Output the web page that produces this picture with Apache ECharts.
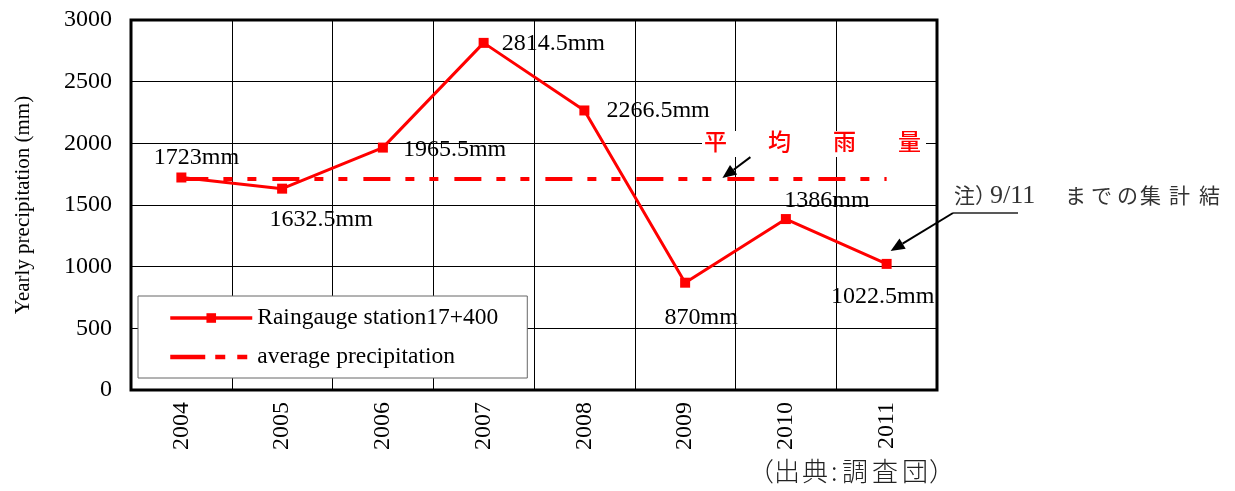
<!DOCTYPE html>
<html>
<head>
<meta charset="utf-8">
<style>
  html, body { margin: 0; padding: 0; background: #fff; }
  #chart { width: 1235px; height: 491px; }
</style>
<script src="https://cdn.jsdelivr.net/npm/echarts@6/dist/echarts.min.js"></script>
</head>
<body>
<div id="chart"></div>
<script>
// Yearly precipitation at the rain gauge station
const years = ['2004', '2005', '2006', '2007', '2008', '2009', '2010', '2011'];
const stationPrecip = [1723, 1632.5, 1965.5, 2814.5, 2266.5, 870, 1386, 1022.5];
const averagePrecip = [1710, 1710, 1710, 1710, 1710, 1710, 1710, 1710];
const yTicks = { min: 0, max: 3000, interval: 500 };

// where each value label sits relative to its point
const labelPlacement = [
  { position: 'top', offset: [15, 2] },
  { position: 'bottom', offset: [39, 9] },
  { position: 'right', offset: [10, 2] },
  { position: 'right', offset: [8, 1] },
  { position: 'right', offset: [12, 0] },
  { position: 'bottom', offset: [16, 13] },
  { position: 'top', offset: [41, 4] },
  { position: 'bottom', offset: [-4, 11] }
];

const SERIF = '"Liberation Serif", "DejaVu Serif", serif';
const CJK = '"Noto Sans CJK JP", sans-serif';
const RED = '#ff0000';

const chart = echarts.init(document.getElementById('chart'), null, { renderer: 'canvas' });

chart.setOption({
  animation: false,
  backgroundColor: '#fff',
  grid: {
    left: 131, right: 298, top: 20, bottom: 101,
    show: true, borderColor: '#000', borderWidth: 3, backgroundColor: 'transparent'
  },
  legend: {
    orient: 'vertical',
    left: 138, top: 296,
    padding: [10, 29, 9, 30],
    itemGap: 15,
    itemWidth: 82, itemHeight: 12,
    backgroundColor: '#fff',
    borderColor: '#666', borderWidth: 1,
    textStyle: { fontFamily: SERIF, fontSize: 23.5, color: '#000' },
    data: [
      { name: 'Raingauge station17+400', lineStyle: { width: 3.5 } },
      {
        name: 'average precipitation',
        itemStyle: { opacity: 0 },
        lineStyle: { width: 4.5, type: [35, 10, 10, 12, 10, 20] }
      }
    ]
  },
  xAxis: {
    type: 'category',
    data: years,
    boundaryGap: true,
    axisLine: { show: false },
    axisTick: { show: false },
    axisLabel: { rotate: 90, margin: 12, fontFamily: SERIF, fontSize: 24, color: '#000' },
    splitLine: { show: true, lineStyle: { color: '#000', width: 1 } }
  },
  yAxis: {
    type: 'value',
    min: yTicks.min, max: yTicks.max, interval: yTicks.interval,
    name: 'Yearly precipitation (mm)',
    nameLocation: 'middle',
    nameGap: 97,
    nameTextStyle: { fontFamily: SERIF, fontSize: 21, color: '#000' },
    axisLine: { show: false },
    axisTick: { show: true, inside: true, length: 5, lineStyle: { color: '#000' } },
    axisLabel: { margin: 19, fontFamily: SERIF, fontSize: 24, color: '#000', formatter: v => String(v) },
    splitLine: { show: true, lineStyle: { color: '#000', width: 1 } }
  },
  series: [
    {
      name: 'average precipitation',
      type: 'line',
      data: averagePrecip,
      symbol: 'none',
      z: 2,
      lineStyle: { color: RED, width: 4, type: [27, 15, 9, 15, 9, 16] },
      itemStyle: { color: RED }
    },
    {
      name: 'Raingauge station17+400',
      type: 'line',
      z: 3,
      data: stationPrecip.map((v, i) => ({
        value: v,
        label: { position: labelPlacement[i].position, offset: labelPlacement[i].offset }
      })),
      symbol: 'rect',
      symbolSize: 10,
      lineStyle: { color: RED, width: 3 },
      itemStyle: { color: RED },
      label: {
        show: true,
        formatter: p => p.value + 'mm',
        fontFamily: SERIF, fontSize: 24, color: '#000'
      }
    }
  ]
});

// annotation arrows and notes, placed from the axis scales
function toPx(idx, val) {
  return chart.convertToPixel({ gridIndex: 0 }, [idx, val]);
}
function xAt(fi) {
  const a = toPx(Math.floor(fi), 0)[0];
  const b = toPx(Math.floor(fi) + 1, 0)[0];
  return a + (b - a) * (fi - Math.floor(fi));
}
function arrow(x1, y1, x2, y2) {
  const ang = Math.atan2(y2 - y1, x2 - x1);
  const len = 14, half = 6;
  const bx = x2 - len * Math.cos(ang), by = y2 - len * Math.sin(ang);
  const nx = -Math.sin(ang), ny = Math.cos(ang);
  return [
    { type: 'line', shape: { x1: x1, y1: y1, x2: bx, y2: by }, style: { stroke: '#000', lineWidth: 2 }, z: 10 },
    { type: 'polygon', shape: { points: [[x2, y2], [bx + nx * half, by + ny * half], [bx - nx * half, by - ny * half]] }, style: { fill: '#000' }, z: 10 }
  ];
}
function txt(s, x, y, font, fill) {
  return { type: 'text', left: x, top: y, z: 11, style: { text: s, fill: fill, font: font } };
}

const avgY = toPx(0, averagePrecip[0])[1];
const tipX = xAt(5.37);
const last = toPx(7, stationPrecip[7]);

const titleFont = '500 23px ' + CJK;
const noteFont = '400 21px ' + CJK;
const srcFont = '300 26px ' + CJK;
const graphics = [
  // 平均雨量 callout on a white plate over the grid line
  { type: 'rect', shape: { x: 702, y: 131, width: 224, height: 26 }, style: { fill: '#fff' }, z: 10 },
  txt('平', 704, 130, titleFont, RED),
  txt('均', 768, 130, titleFont, RED),
  txt('雨', 833, 130, titleFont, RED),
  txt('量', 898, 130, titleFont, RED),
  ...arrow(tipX + 28, avgY - 22, tipX, avgY - 1),
  // note on the partial 2011 total
  txt('注）', 954, 185, noteFont, '#333'),
  txt('9/11', 990, 183, '26px ' + SERIF, '#333'),
  txt('ま', 1065, 185, noteFont, '#333'),
  txt('で', 1091, 185, noteFont, '#333'),
  txt('の', 1117, 185, noteFont, '#333'),
  txt('集', 1140, 185, noteFont, '#333'),
  txt('計', 1169, 185, noteFont, '#333'),
  txt('結', 1199, 185, noteFont, '#333'),
  { type: 'line', shape: { x1: 953, y1: 213, x2: 1018, y2: 213 }, style: { stroke: '#222', lineWidth: 1.5 }, z: 10 },
  ...arrow(953, 213, last[0] + 4, last[1] - 13),
  // source line
  txt('（', 748, 458, srcFont, '#222'),
  txt('出', 774, 458, srcFont, '#222'),
  txt('典', 802, 458, srcFont, '#222'),
  txt(':', 831, 458, srcFont, '#222'),
  txt('調', 842, 458, srcFont, '#222'),
  txt('査', 872, 458, srcFont, '#222'),
  txt('団', 902, 458, srcFont, '#222'),
  txt('）', 929, 458, srcFont, '#222')
];
chart.setOption({ graphic: graphics });
</script>
</body>
</html>
